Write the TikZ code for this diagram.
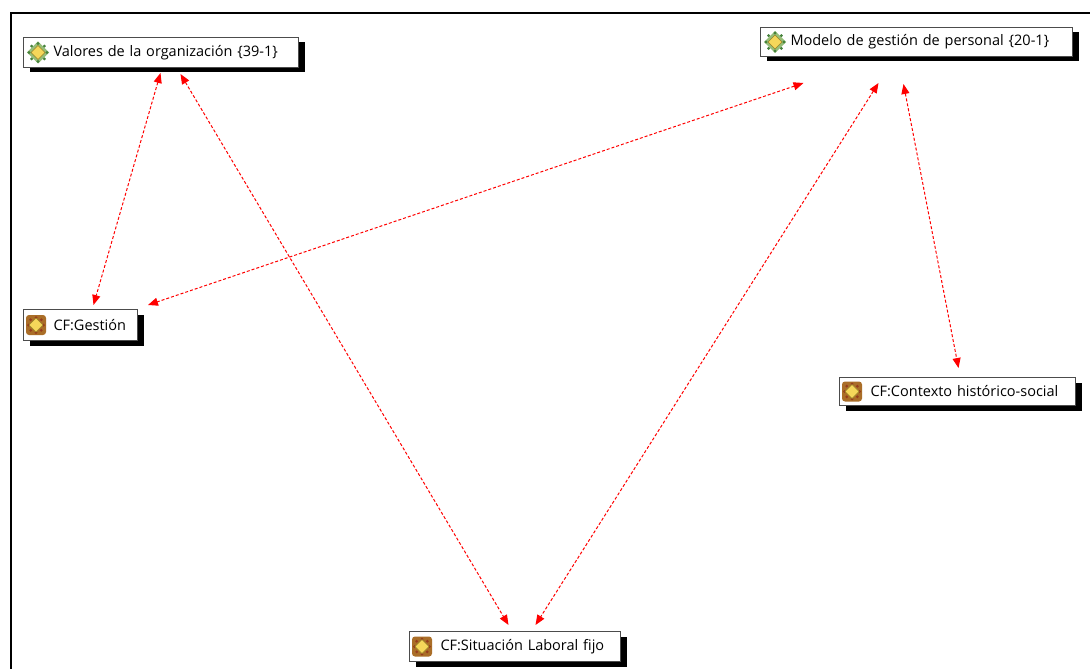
\documentclass[tikz,border=0pt]{standalone}
\usepackage{fontspec}
\setmainfont{Open Sans}
\usetikzlibrary{arrows.meta,shadows}

\definecolor{iconGreen}{RGB}{150,190,120}
\definecolor{iconDarkGreen}{RGB}{70,130,60}
\definecolor{iconYellow}{RGB}{245,215,90}
\definecolor{iconOlive}{RGB}{150,130,40}
\definecolor{iconBrown}{RGB}{170,110,40}
\definecolor{iconRed}{RGB}{150,60,30}

\tikzset{
  concept/.style={draw=black!70, line width=1pt, fill=white, anchor=north west,
    inner xsep=0pt, inner ysep=0pt, text width=#1, align=left,
    font=\fontsize{14.5}{16}\selectfont,
    general shadow={fill=black, shadow xshift=6pt, shadow yshift=-5pt}},
  link/.style={<->, red, line width=1pt, dash pattern=on 3pt off 2pt}
}

\newcommand{\factoricon}[1]{%
  \begin{scope}[shift={(#1)}]
    \fill[iconGreen] (0,-11) -- (11,0) -- (0,11) -- (-11,0) -- cycle;
    \foreach \a in {0,45,...,315} \fill[iconDarkGreen] (\a:9) circle (1.6);
    \filldraw[fill=iconYellow, draw=iconOlive, line width=0.6pt] (0,-7) -- (7,0) -- (0,7) -- (-7,0) -- cycle;
  \end{scope}}
\newcommand{\cficon}[1]{%
  \begin{scope}[shift={(#1)}]
    \fill[iconBrown, rounded corners=3pt] (-10,-10) rectangle (10,10);
    \foreach \a in {0,45,...,315} \fill[iconRed] (\a:7.5) circle (1.5);
    \filldraw[fill=iconYellow, draw=iconOlive, line width=0.6pt] (0,-7) -- (7,0) -- (0,7) -- (-7,0) -- cycle;
  \end{scope}}

\begin{document}
\begin{tikzpicture}[x=1pt,y=-1pt,>={Triangle[length=10pt,width=8pt]}]
	\useasboundingbox (0,0) rectangle (1090,669);
	\draw[line width=2pt] (11,669) -- (11,13) -- (1090,13);
	% concepts
	\node[concept=275pt,minimum height=30pt](valores) at (23,37) {\hspace*{30pt}Valores de la organización \{39-1\}};
	\node[concept=312pt,minimum height=29pt](modelo) at (760,27) {\hspace*{30pt}Modelo de gestión de personal \{20-1\}};
	\node[concept=114pt,minimum height=31pt](gestion) at (23,309) {\hspace*{30pt}CF:Gestión};
	\node[concept=236pt,minimum height=28pt](contexto) at (839,377) {\hspace*{31pt}CF:Contexto histórico-social};
	\node[concept=211pt,minimum height=30pt](situacion) at (409,631) {\hspace*{31pt}CF:Situación Laboral fijo};
	% icons
	\factoricon{[xshift=15pt]valores.west}
	\factoricon{[xshift=15pt]modelo.west}
	\cficon{[xshift=13pt]gestion.west}
	\cficon{[xshift=13pt]contexto.west}
	\cficon{[xshift=13pt]situacion.west}
	% links
	\path[link]
	([xshift=-0.5pt,yshift=-5pt]valores.south) edge ([xshift=13pt,yshift=4pt]gestion.north)
	([xshift=19.5pt,yshift=-6pt]valores.south) edge ([xshift=-6.5pt,yshift=6pt]situacion.north)
	([xshift=-113pt,yshift=-26pt]modelo.south) edge ([xshift=10pt,yshift=4pt]gestion.north east)
	([xshift=-38pt,yshift=-26pt]modelo.south) edge ([xshift=20.5pt,yshift=6pt]situacion.north)
	([xshift=-13pt,yshift=-27pt]modelo.south) edge ([xshift=1pt,yshift=9pt]contexto.north);
\end{tikzpicture}
\end{document}
